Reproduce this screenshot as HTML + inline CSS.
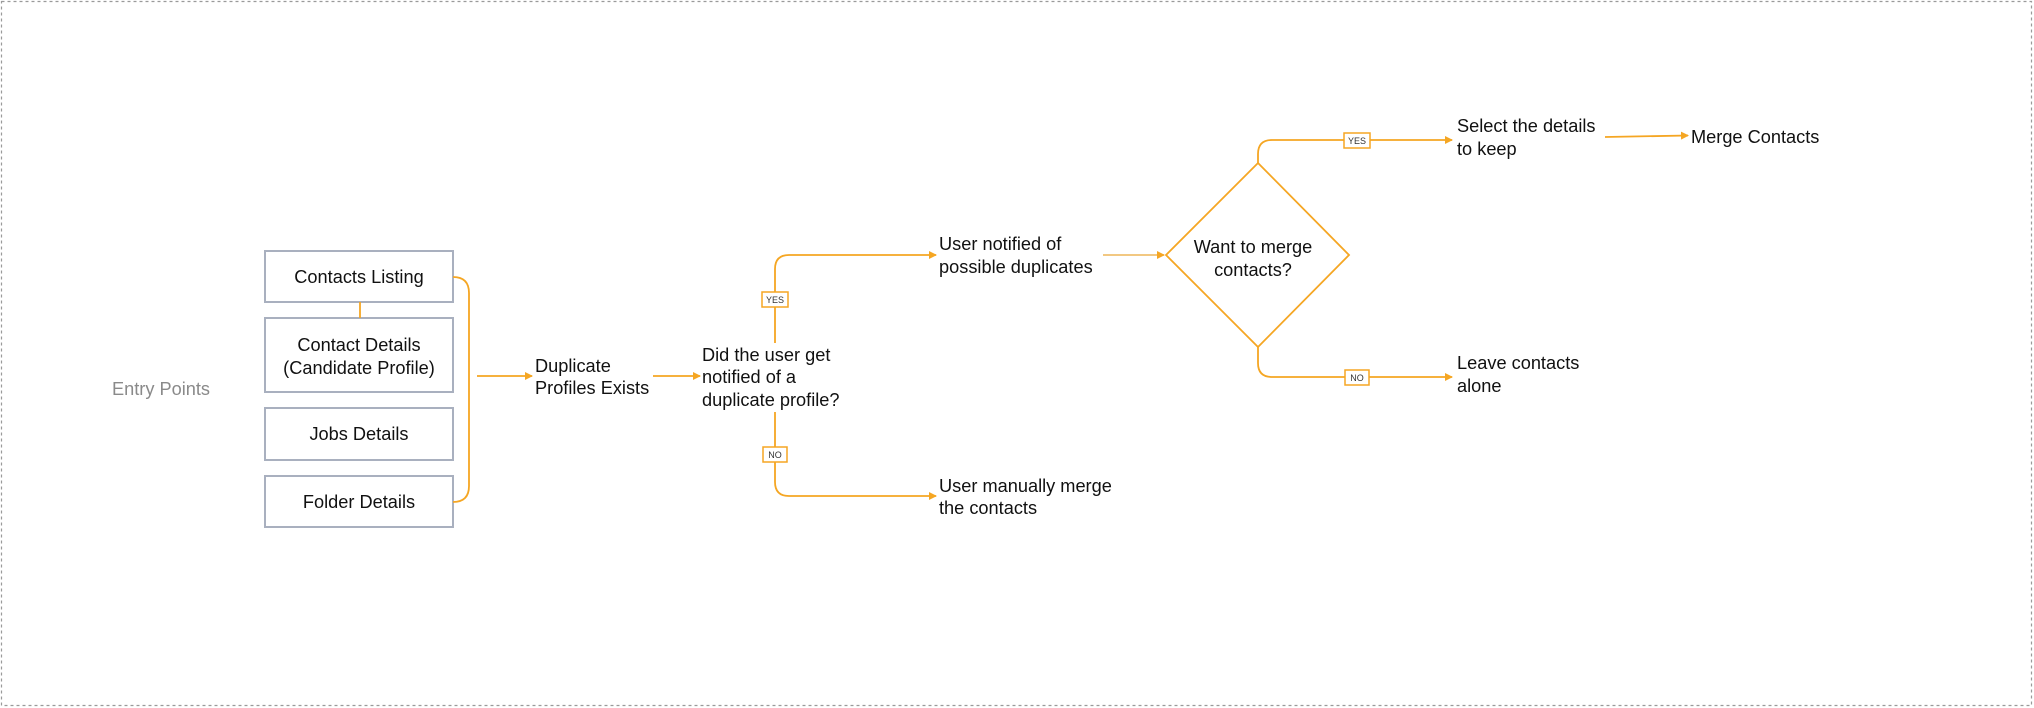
<!DOCTYPE html>
<html><head><meta charset="utf-8"><style>
html,body{margin:0;padding:0;background:#fff;}
svg{display:block;}
text{font-family:"Liberation Sans",sans-serif;font-size:18.2px;fill:#111;}
.lab{font-size:9px;fill:#333;}
</style></head><body>
<svg width="2034" height="708" viewBox="0 0 2034 708" xmlns="http://www.w3.org/2000/svg">
<defs>
<marker id="a" markerWidth="8" markerHeight="8" refX="7" refY="4" orient="auto" markerUnits="userSpaceOnUse">
<path d="M0,0 L8,4 L0,8 z" fill="#f5a623"/></marker>
</defs>
<rect x="1.5" y="1.5" width="2030" height="704" fill="none" stroke="#9a9a9a" stroke-width="1.2" stroke-dasharray="3,3"/>
<text x="161" y="395" text-anchor="middle" style="fill:#8a8a8a">Entry Points</text>
<g fill="#fff" stroke="#a9b0bf" stroke-width="2">
<rect x="265" y="251" width="188" height="51"/>
<rect x="265" y="318" width="188" height="74"/>
<rect x="265" y="408" width="188" height="52"/>
<rect x="265" y="476" width="188" height="51"/>
</g>
<text x="359" y="283" text-anchor="middle">Contacts Listing</text>
<text x="359" y="351" text-anchor="middle">Contact Details</text>
<text x="359" y="374" text-anchor="middle">(Candidate Profile)</text>
<text x="359" y="440" text-anchor="middle">Jobs Details</text>
<text x="359" y="508" text-anchor="middle">Folder Details</text>
<g fill="none" stroke="#f5a623" stroke-width="1.8">
<line x1="360" y1="302" x2="360" y2="318"/>
<path d="M453,277 Q469,277 469,293 L469,486 Q469,502 453,502"/>
<line x1="477" y1="376" x2="532" y2="376" marker-end="url(#a)"/>
<line x1="653" y1="376" x2="700" y2="376" marker-end="url(#a)"/>
<path d="M775,343 L775,269 Q775,255 789,255 L936,255" marker-end="url(#a)"/>
<path d="M775,412 L775,482 Q775,496 789,496 L936,496" marker-end="url(#a)"/>
<line x1="1103" y1="255" x2="1164" y2="255" stroke="#f0c070" marker-end="url(#a)"/>
<polygon points="1258,163 1349,255 1258,347 1166,255"/>
<path d="M1258,163 L1258,154 Q1258,140 1272,140 L1452,140" marker-end="url(#a)"/>
<path d="M1258,347 L1258,363 Q1258,377 1272,377 L1452,377" marker-end="url(#a)"/>
<line x1="1605" y1="137" x2="1688" y2="135.5" marker-end="url(#a)"/>
</g>
<g fill="#fff" stroke="#f5a623" stroke-width="1.5">
<rect x="762" y="292" width="26" height="15"/>
<rect x="763" y="447" width="24" height="15"/>
<rect x="1344" y="133" width="26" height="15"/>
<rect x="1345" y="370" width="24" height="15"/>
</g>
<text class="lab" x="775" y="303" text-anchor="middle">YES</text>
<text class="lab" x="775" y="458" text-anchor="middle">NO</text>
<text class="lab" x="1357" y="144" text-anchor="middle">YES</text>
<text class="lab" x="1357" y="381" text-anchor="middle">NO</text>
<text x="535" y="372">Duplicate</text>
<text x="535" y="394">Profiles Exists</text>
<text x="702" y="361">Did the user get</text>
<text x="702" y="383">notified of a</text>
<text x="702" y="406">duplicate profile?</text>
<text x="939" y="250">User notified of</text>
<text x="939" y="273">possible duplicates</text>
<text x="939" y="492">User manually merge</text>
<text x="939" y="514">the contacts</text>
<text x="1253" y="253" text-anchor="middle">Want to merge</text>
<text x="1253" y="276" text-anchor="middle">contacts?</text>
<text x="1457" y="132">Select the details</text>
<text x="1457" y="155">to keep</text>
<text x="1691" y="143">Merge Contacts</text>
<text x="1457" y="369">Leave contacts</text>
<text x="1457" y="392">alone</text>
</svg>
</body></html>
